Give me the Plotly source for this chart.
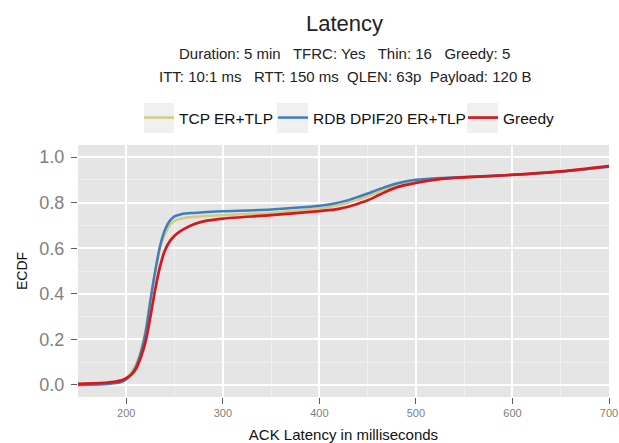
import plotly.graph_objects as go

x_tcp = [150, 180, 195, 200, 205, 210, 215, 220, 225, 230, 235, 240, 245, 250, 255, 260, 270, 280, 300, 350, 400, 410, 420, 430, 440, 450, 460, 470, 480, 490, 500, 525, 550, 600, 650, 700]
y_tcp = [0.0, 0.005, 0.015, 0.03, 0.055, 0.09, 0.15, 0.24, 0.38, 0.50, 0.60, 0.66, 0.70, 0.72, 0.728, 0.733, 0.737, 0.740, 0.745, 0.755, 0.775, 0.781, 0.789, 0.80, 0.813, 0.828, 0.845, 0.862, 0.876, 0.887, 0.895, 0.906, 0.912, 0.922, 0.937, 0.962]

x_rdb = [150, 180, 195, 200, 205, 210, 215, 220, 225, 230, 235, 240, 245, 250, 255, 260, 270, 280, 300, 350, 400, 410, 420, 430, 440, 450, 460, 470, 480, 490, 500, 525, 550, 600, 650, 700]
y_rdb = [0.0, 0.004, 0.012, 0.025, 0.045, 0.08, 0.14, 0.23, 0.37, 0.50, 0.61, 0.68, 0.72, 0.74, 0.747, 0.752, 0.755, 0.758, 0.762, 0.770, 0.786, 0.792, 0.80, 0.811, 0.825, 0.840, 0.856, 0.871, 0.884, 0.894, 0.900, 0.908, 0.913, 0.922, 0.936, 0.958]

x_greedy = [150, 180, 195, 200, 205, 210, 215, 220, 225, 230, 235, 240, 245, 250, 255, 260, 270, 280, 300, 350, 400, 410, 420, 430, 440, 450, 460, 470, 480, 490, 500, 525, 550, 600, 650, 700]
y_greedy = [0.005, 0.01, 0.02, 0.03, 0.045, 0.07, 0.12, 0.19, 0.30, 0.42, 0.52, 0.59, 0.63, 0.655, 0.672, 0.685, 0.705, 0.718, 0.730, 0.745, 0.763, 0.767, 0.773, 0.782, 0.795, 0.81, 0.83, 0.85, 0.867, 0.878, 0.887, 0.903, 0.911, 0.922, 0.937, 0.960]

series = [
    ("TCP ER+TLP", x_tcp, y_tcp, "#d2cc7e", 2.5, "legend"),
    ("RDB DPIF20 ER+TLP", x_rdb, y_rdb, "#3d7fbd", 2.5, "legend2"),
    ("Greedy", x_greedy, y_greedy, "#d4181f", 2.7, "legend3"),
]

title_text = "Latency"
subtitle_1 = "Duration: 5 min   TFRC: Yes   Thin: 16   Greedy: 5"
subtitle_2 = "ITT: 10:1 ms   RTT: 150 ms  QLEN: 63p  Payload: 120 B"

fig = go.Figure()
for name, xs, ys, color, w, lg in series:
    fig.add_trace(go.Scatter(x=xs, y=ys, mode="lines", name=name, legend=lg,
                             line=dict(color=color, width=w, shape="spline", smoothing=0.8)))

W, H = 619, 443
PL, PR, PT, PB = 78, 609, 145, 397

def px(xs):
    return (xs - PL) / (PR - PL)
def py(ys):
    return (PB - ys) / (PB - PT)

annotations = [
    dict(text=title_text, x=px(344), y=py(24), xref="paper", yref="paper", showarrow=False,
         xanchor="center", yanchor="middle", font=dict(size=22, color="#222222")),
    dict(text=subtitle_1, x=px(344), y=py(54), xref="paper", yref="paper", showarrow=False,
         xanchor="center", yanchor="middle", font=dict(size=15, color="#222222")),
    dict(text=subtitle_2, x=px(344.5), y=py(76), xref="paper", yref="paper", showarrow=False,
         xanchor="center", yanchor="middle", font=dict(size=15, color="#222222")),
]

shapes = []
for x0, x1 in [(144, 174), (277, 308), (467, 498)]:
    shapes.append(dict(type="rect", xref="paper", yref="paper", x0=px(x0), x1=px(x1), y0=py(133), y1=py(103),
                       fillcolor="#f0f0f0", line=dict(width=0), layer="below"))

def leg(xs):
    return dict(orientation="h", x=px(xs), xanchor="left", y=py(118), yanchor="middle",
                font=dict(size=15.5, color="#111111"), bgcolor="rgba(0,0,0,0)", itemwidth=30)

fig.update_layout(
    width=W, height=H,
    margin=dict(l=PL, r=W - PR, t=PT, b=H - PB, autoexpand=False),
    paper_bgcolor="white",
    plot_bgcolor="#e5e5e5",
    font=dict(family="Liberation Sans, Arial, sans-serif", color="#333333"),
    annotations=annotations,
    shapes=shapes,
    showlegend=True,
    legend=leg(139),
    legend2=leg(273),
    legend3=leg(463),
    xaxis=dict(range=[150, 700], tickvals=[200, 300, 400, 500, 600, 700],
               showgrid=True, gridcolor="white", gridwidth=1.5,
               minor=dict(tickvals=[150, 250, 350, 450, 550, 650], showgrid=True, gridcolor="#f0f0f0", gridwidth=0.8),
               ticks="outside", ticklen=6, tickcolor="#5a5a5a", tickwidth=1,
               tickfont=dict(size=11, color="#7f7f7f"), zeroline=False, automargin=False,
               title=dict(text="ACK Latency in milliseconds", font=dict(size=15, color="#111111"), standoff=23)),
    yaxis=dict(range=[-0.053, 1.053], tickvals=[0, 0.2, 0.4, 0.6, 0.8, 1.0], tickformat=".1f",
               showgrid=True, gridcolor="white", gridwidth=1.5,
               minor=dict(tickvals=[0.1, 0.3, 0.5, 0.7, 0.9], showgrid=True, gridcolor="#f0f0f0", gridwidth=0.8),
               ticks="outside", ticklen=6, tickcolor="#5a5a5a", tickwidth=1, ticklabelstandoff=3,
               tickfont=dict(size=18, color="#7f7f7f"), zeroline=False, automargin=False,
               title=dict(text="ECDF", font=dict(size=14, color="#111111"), standoff=8)),
)

fig.write_html("out.html", config={"displayModeBar": False},
               post_script="document.body.style.margin='0px';")
